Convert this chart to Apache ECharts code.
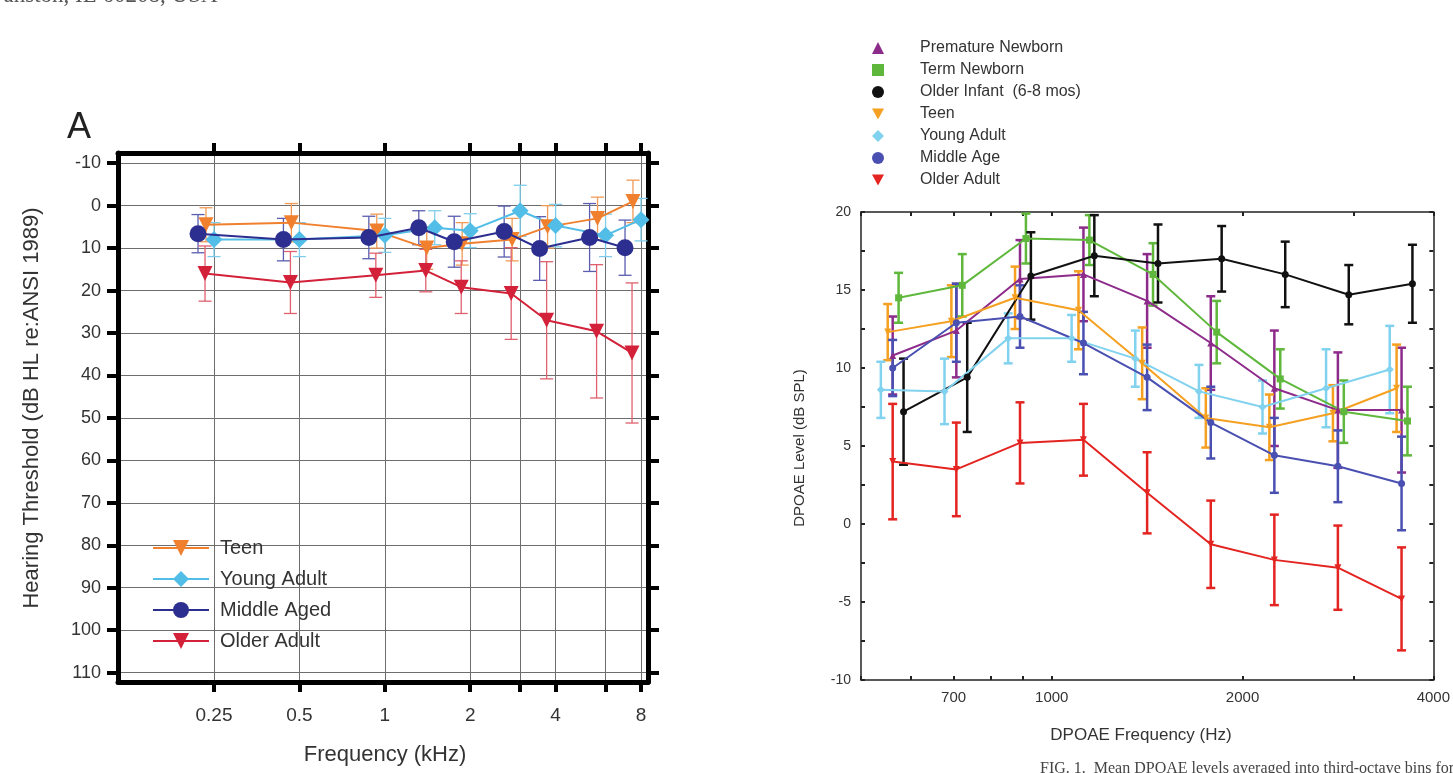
<!DOCTYPE html>
<html>
<head>
<meta charset="utf-8">
<script src="https://cdn.jsdelivr.net/npm/echarts@6/dist/echarts.min.js"></script>
<style>
  html, body { margin: 0; padding: 0; background: #ffffff; }
  #chart { width: 1453px; height: 773px; }
</style>
</head>
<body>
<div id="chart"></div>
<script>
// ---------- Panel A: hearing thresholds (dB HL) ----------
const freqA = [0.25, 0.5, 1, 1.5, 2, 3, 4, 6, 8];           // kHz
const tickFreqA = [0.25, 0.5, 1, 2, 3, 4, 6, 8];
const labelFreqA = [0.25, 0.5, 1, 2, 4, 8];
const thresholdTicks = [-10, 0, 10, 20, 30, 40, 50, 60, 70, 80, 90, 100, 110];

const teenA = [4.5, 4, 6, 10, 9, 8, 5, 3, -1];
const teenAErr = [4, 4.5, 4, 5, 5, 5, 5, 5, 5];
const youngA = [8.0, 8.0, 7.0, 5.2, 5.9, 1.2, 4.7, 7.0, 3.3];
const youngAErr = [4, 4, 4, 4, 4, 6, 5, 5, 5];
const middleA = [6.6, 8.0, 7.5, 5.2, 8.5, 6.1, 10.1, 7.5, 9.9];
const middleAErr = [4.5, 5, 5, 4, 6, 6, 7.5, 8, 6.5];
const olderA = [16.0, 18.1, 16.4, 15.3, 19.2, 20.7, 27.0, 29.6, 34.7];
const olderAErr = [6.5, 7.3, 5.2, 5, 6.2, 10.8, 13.8, 15.7, 16.5];

// ---------- Panel B: DPOAE levels (dB SPL), third-octave bins ----------
const freqB = [561, 707, 891, 1122, 1414, 1782, 2245, 2828, 3564]; // Hz
const tickFreqB = [500, 600, 700, 800, 900, 1000, 2000, 3000, 4000];
const labelFreqB = [700, 1000, 2000, 4000];
const levelTicks = [-10, -7.5, -5, -2.5, 0, 2.5, 5, 7.5, 10, 12.5, 15, 17.5, 20];
const levelLabels = [-10, -5, 0, 5, 10, 15, 20];

const prematureB = [10.8, 12.4, 15.7, 16.0, 14.3, 11.6, 8.7, 7.3, 7.3];
const prematureBErr = [2.5, 3, 2.5, 3, 3, 3, 3.7, 3.7, 4];
const termB = [14.5, 15.3, 18.3, 18.2, 16.0, 12.3, 9.3, 7.2, 6.6];
const termBErr = [1.6, 2, 1.6, 1.6, 2, 2, 1.9, 2, 2.2];
const infantB = [7.2, 9.4, 15.9, 17.2, 16.7, 17.0, 16.0, 14.7, 15.4];
const infantBErr = [3.4, 3.5, 2.8, 2.6, 2.5, 2.1, 2.1, 1.9, 2.5];
const teenB = [12.3, 13.0, 14.5, 13.7, 10.3, 6.8, 6.2, 7.1, 8.7];
const teenBErr = [1.8, 2.3, 2, 2.5, 2.3, 1.9, 2.1, 1.8, 2.8];
const youngB = [8.6, 8.5, 11.9, 11.9, 10.6, 8.5, 7.5, 8.7, 9.9];
const youngBErr = [1.8, 2.1, 1.6, 1.5, 1.8, 1.7, 1.7, 2.5, 2.8];
const middleB = [10.0, 12.9, 13.3, 11.6, 9.4, 6.5, 4.4, 3.7, 2.6];
const middleBErr = [1.8, 2.5, 2, 2, 2.1, 2.3, 2.4, 2.3, 3];
const olderB = [4.0, 3.5, 5.2, 5.4, 2.0, -1.3, -2.3, -2.8, -4.8];
const olderBErr = [3.7, 3, 2.6, 2.3, 2.6, 2.8, 2.9, 2.7, 3.3];

// Frequencies are plotted on octave (log2) axes; each group is nudged
// sideways by a small octave offset so the error bars stay readable.
const log2 = Math.log2;
const FONT = '"Liberation Sans", Arial, Helvetica, sans-serif';

function points(freqs, vals, shift) {
  return freqs.map((f, i) => [log2(f) + shift, vals[i]]);
}
function barPoints(freqs, vals, errs, shift) {
  return freqs.map((f, i) => [log2(f) + shift, vals[i], errs[i]]);
}
function niceNum(v) { return String(Number(Math.pow(2, v).toPrecision(6))); }

function errorBars(xi, yi, data, color, cap, width, z) {
  return {
    type: 'custom', xAxisIndex: xi, yAxisIndex: yi, z: z, silent: true,
    dimensions: ['x', 'y', 'err'], encode: { x: 0, y: 1 },
    data: data,
    renderItem: function (params, api) {
      const x = api.value(0), y = api.value(1), e = api.value(2);
      const a = api.coord([x, y + e]);
      const b = api.coord([x, y - e]);
      const h = cap / 2;
      const st = () => ({ stroke: color, lineWidth: width });
      return {
        type: 'group',
        children: [
          { type: 'line', shape: { x1: a[0], y1: a[1], x2: b[0], y2: b[1] }, style: st() },
          { type: 'line', shape: { x1: a[0] - h, y1: a[1], x2: a[0] + h, y2: a[1] }, style: st() },
          { type: 'line', shape: { x1: b[0] - h, y1: b[1], x2: b[0] + h, y2: b[1] }, style: st() }
        ]
      };
    }
  };
}

function lineSeries(name, xi, yi, data, color, symbol, size, rotate, width, z) {
  return {
    type: 'line', name: name, xAxisIndex: xi, yAxisIndex: yi, z: z,
    data: data, symbol: symbol, symbolSize: size, symbolRotate: rotate,
    showAllSymbol: true, silent: true,
    itemStyle: { color: color, opacity: 1 },
    lineStyle: { color: color, width: width }
  };
}

// ----- panel A styling -----
const colA = { teen: '#f0802e', young: '#52bde6', middle: '#2c2f8f', older: '#d3213a' };
const shiftA = { teen: -0.094, young: 0, middle: -0.187, older: -0.105 };

// ----- panel B styling -----
const colB = {
  premature: '#8d2b8b', term: '#5fb83b', infant: '#111111', teen: '#f5a021',
  young: '#80d2ef', middle: '#4a50b2', older: '#e32420'
};
const shiftB = { premature: 0, term: 0.031, infant: 0.057, teen: -0.026, young: -0.062, middle: 0, older: 0 };

const downTri = 'path://M0,0L10,0L5,9Z';

const series = [
  // Panel A error bars
  errorBars(0, 0, barPoints(freqA, youngA, youngAErr, shiftA.young), '#7fcdea', 13, 1.3, 2),
  errorBars(0, 0, barPoints(freqA, middleA, middleAErr, shiftA.middle), '#5a5db0', 13, 1.3, 2),
  errorBars(0, 0, barPoints(freqA, teenA, teenAErr, shiftA.teen), '#f09a55', 13, 1.3, 2),
  errorBars(0, 0, barPoints(freqA, olderA, olderAErr, shiftA.older), '#e0606e', 13, 1.3, 2),
  // Panel A lines (legend order)
  lineSeries('Teen', 0, 0, points(freqA, teenA, shiftA.teen), colA.teen, 'triangle', 15, 180, 2, 4),
  lineSeries('Young Adult', 0, 0, points(freqA, youngA, shiftA.young), colA.young, 'diamond', 17, 0, 2, 4),
  lineSeries('Middle Aged', 0, 0, points(freqA, middleA, shiftA.middle), colA.middle, 'circle', 17, 0, 2, 5),
  lineSeries('Older Adult', 0, 0, points(freqA, olderA, shiftA.older), colA.older, 'triangle', 15, 180, 2, 5),

  // Panel B error bars
  errorBars(2, 2, barPoints(freqB, prematureB, prematureBErr, shiftB.premature), colB.premature, 9, 2.5, 6),
  errorBars(2, 2, barPoints(freqB, termB, termBErr, shiftB.term), colB.term, 9, 2.5, 6),
  errorBars(2, 2, barPoints(freqB, infantB, infantBErr, shiftB.infant), colB.infant, 9, 2.5, 6),
  errorBars(2, 2, barPoints(freqB, teenB, teenBErr, shiftB.teen), colB.teen, 9, 2.5, 6),
  errorBars(2, 2, barPoints(freqB, youngB, youngBErr, shiftB.young), colB.young, 9, 2.5, 6),
  errorBars(2, 2, barPoints(freqB, middleB, middleBErr, shiftB.middle), colB.middle, 9, 2.5, 6),
  errorBars(2, 2, barPoints(freqB, olderB, olderBErr, shiftB.older), colB.older, 9, 2.5, 7),
  // Panel B lines
  lineSeries('Premature Newborn', 2, 2, points(freqB, prematureB, shiftB.premature), colB.premature, 'triangle', 7, 0, 2, 8),
  lineSeries('Term Newborn', 2, 2, points(freqB, termB, shiftB.term), colB.term, 'rect', 7, 0, 2, 8),
  lineSeries('Older Infant  (6-8 mos)', 2, 2, points(freqB, infantB, shiftB.infant), colB.infant, 'circle', 7, 0, 2, 8),
  lineSeries('Teen', 2, 2, points(freqB, teenB, shiftB.teen), colB.teen, 'triangle', 7, 180, 2, 8),
  lineSeries('Young Adult', 2, 2, points(freqB, youngB, shiftB.young), colB.young, 'diamond', 8, 0, 2, 8),
  lineSeries('Middle Age', 2, 2, points(freqB, middleB, shiftB.middle), colB.middle, 'circle', 7, 0, 2, 8),
  lineSeries('Older Adult', 2, 2, points(freqB, olderB, shiftB.older), colB.older, 'triangle', 7, 180, 2, 9)
];

// ----- axes -----
const thickLine = { show: true, onZero: false, lineStyle: { color: '#000', width: 5 } };
const thinLine = { show: true, onZero: false, lineStyle: { color: '#222', width: 1.5 } };
const gridLineA = { show: true, lineStyle: { color: '#6d6d6d', width: 1 } };

const xMinA = -3.124, xMaxA = 3.082;
const xMinB = log2(500), xMaxB = log2(4000);

const xAxes = [
  { // panel A bottom
    type: 'value', gridIndex: 0, position: 'bottom', min: xMinA, max: xMaxA,
    axisLine: thickLine,
    axisTick: { show: true, inside: false, length: 10, lineStyle: { color: '#000', width: 4 }, customValues: tickFreqA.map(log2) },
    axisLabel: { show: true, customValues: labelFreqA.map(log2), formatter: niceNum, margin: 24,
                 fontFamily: FONT, fontSize: 19, color: '#333' },
    splitLine: gridLineA
  },
  { // panel A top
    type: 'value', gridIndex: 0, position: 'top', min: xMinA, max: xMaxA,
    axisLine: thickLine,
    axisTick: { show: true, inside: false, length: 10, lineStyle: { color: '#000', width: 4 }, customValues: tickFreqA.map(log2) },
    axisLabel: { show: false }, splitLine: { show: false }
  },
  { // panel B bottom
    type: 'value', gridIndex: 1, position: 'bottom', min: xMinB, max: xMaxB,
    axisLine: thinLine,
    axisTick: { show: true, inside: true, length: 4, lineStyle: { color: '#222', width: 2 }, customValues: tickFreqB.map(log2) },
    axisLabel: { show: true, customValues: labelFreqB.map(log2), formatter: v => String(Math.round(Math.pow(2, v))),
                 margin: 10, fontFamily: FONT, fontSize: 15, color: '#333' },
    splitLine: { show: false }
  },
  { // panel B top
    type: 'value', gridIndex: 1, position: 'top', min: xMinB, max: xMaxB,
    axisLine: thinLine,
    axisTick: { show: true, inside: true, length: 4, lineStyle: { color: '#222', width: 2 }, customValues: tickFreqB.map(log2) },
    axisLabel: { show: false }, splitLine: { show: false }
  }
];

const yAxes = [
  { // panel A left
    type: 'value', gridIndex: 0, position: 'left', inverse: true, min: -12.4, max: 112.2,
    axisLine: thickLine,
    axisTick: { show: true, inside: false, length: 11, lineStyle: { color: '#000', width: 4 }, customValues: thresholdTicks },
    axisLabel: { show: true, customValues: thresholdTicks, margin: 17, fontFamily: FONT, fontSize: 18, color: '#333' },
    splitLine: gridLineA
  },
  { // panel A right
    type: 'value', gridIndex: 0, position: 'right', inverse: true, min: -12.4, max: 112.2,
    axisLine: thickLine,
    axisTick: { show: true, inside: false, length: 11, lineStyle: { color: '#000', width: 4 }, customValues: thresholdTicks },
    axisLabel: { show: false }, splitLine: { show: false }
  },
  { // panel B left
    type: 'value', gridIndex: 1, position: 'left', min: -10, max: 20,
    axisLine: thinLine,
    axisTick: { show: true, inside: true, length: 4, lineStyle: { color: '#222', width: 2 }, customValues: levelTicks },
    axisLabel: { show: true, customValues: levelLabels, margin: 10, fontFamily: FONT, fontSize: 14, color: '#333' },
    splitLine: { show: false }
  },
  { // panel B right
    type: 'value', gridIndex: 1, position: 'right', min: -10, max: 20,
    axisLine: thinLine,
    axisTick: { show: true, inside: true, length: 4, lineStyle: { color: '#222', width: 2 }, customValues: levelTicks },
    axisLabel: { show: false }, splitLine: { show: false }
  }
];

function text(x, y, str, size, opts) {
  return Object.assign({
    type: 'text', silent: true, z: 20,
    style: Object.assign({ x: x, y: y, text: str, fill: '#333', align: 'center', verticalAlign: 'middle',
                           font: size + 'px ' + FONT }, (opts && opts.style) || {})
  }, (opts && opts.el) || {});
}

const option = {
  animation: false,
  backgroundColor: '#ffffff',
  grid: [
    { left: 118, top: 153, width: 530, height: 529, containLabel: false },
    { left: 861, top: 212, width: 579, height: 468, containLabel: false }
  ],
  xAxis: xAxes,
  yAxis: yAxes,
  legend: [
    {
      orient: 'vertical', left: 152, top: 538, padding: 0, itemGap: 11,
      itemWidth: 56, itemHeight: 20, selectedMode: false,
      data: ['Teen', 'Young Adult', 'Middle Aged', 'Older Adult'],
      textStyle: { fontFamily: FONT, fontSize: 20, color: '#333', padding: [0, 0, 0, 6] }
    },
    {
      orient: 'vertical', left: 872, top: 40, padding: 0, itemGap: 6,
      itemWidth: 12, itemHeight: 12, selectedMode: false,
      data: [
        { name: 'Premature Newborn', icon: 'triangle', itemStyle: { color: colB.premature } },
        { name: 'Term Newborn', icon: 'rect', itemStyle: { color: colB.term } },
        { name: 'Older Infant  (6-8 mos)', icon: 'circle', itemStyle: { color: colB.infant } },
        { name: 'Teen', icon: downTri, itemStyle: { color: colB.teen } },
        { name: 'Young Adult', icon: 'diamond', itemStyle: { color: colB.young } },
        { name: 'Middle Age', icon: 'circle', itemStyle: { color: colB.middle } },
        { name: 'Older Adult', icon: downTri, itemStyle: { color: colB.older } }
      ],
      textStyle: { fontFamily: FONT, fontSize: 16, lineHeight: 16, color: '#333', padding: [0, 0, 0, 31] }
    }
  ],
  graphic: [
    text(79, 128, 'A', 36, { style: { fill: '#222' } }),
    text(32, 408, 'Hearing Threshold (dB HL re:ANSI 1989)', 22, { el: { rotation: Math.PI / 2, x: 32, y: 408 }, style: { x: 0, y: 0 } }),
    text(385, 755, 'Frequency (kHz)', 22),
    text(800, 448, 'DPOAE Level (dB SPL)', 15, { el: { rotation: Math.PI / 2, x: 800, y: 448 }, style: { x: 0, y: 0 } }),
    text(1141, 735, 'DPOAE Frequency (Hz)', 17),
    text(-22, -4, 'Evanston, IL 60208, USA', 23, { style: { align: 'left', fill: '#555', font: '23px "Liberation Serif", "Times New Roman", serif' } }),
    text(1040, 769, 'FIG. 1.  Mean DPOAE levels averaged into third-octave bins for', 16,
         { style: { align: 'left', fill: '#444', font: '16px "Liberation Serif", "Times New Roman", serif' } })
  ],
  series: series
};

const chart = echarts.init(document.getElementById('chart'), null, { renderer: 'canvas' });
chart.setOption(option);
</script>
</body>
</html>
